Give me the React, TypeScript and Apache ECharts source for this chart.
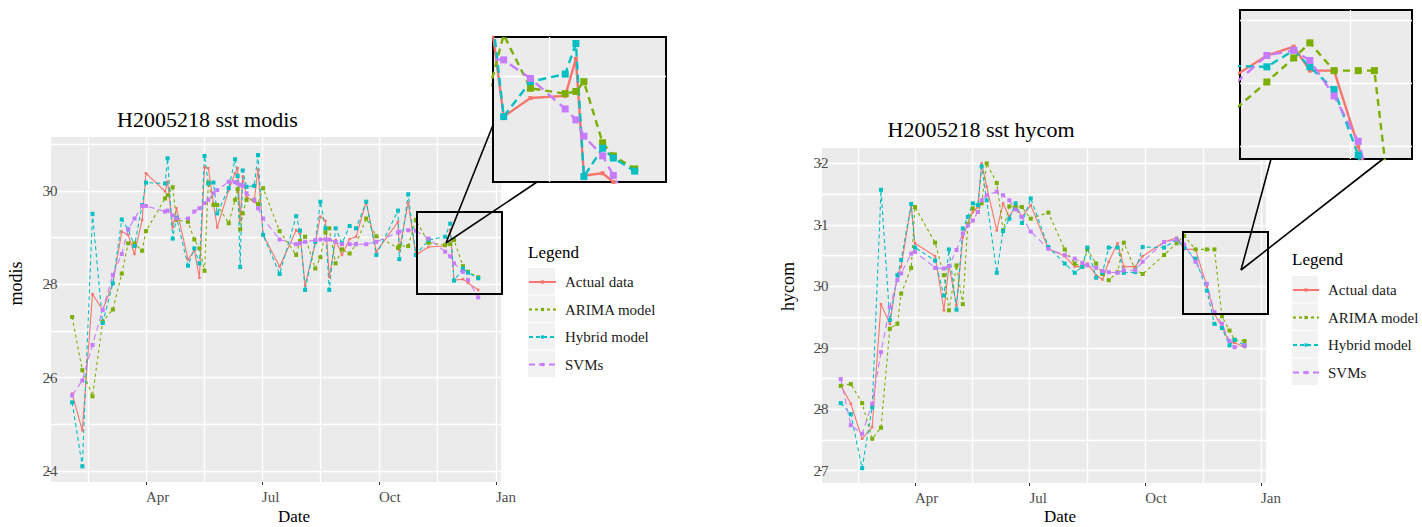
import React, { useEffect, useRef } from "react";
import * as echarts from "echarts";

// ---------- data ----------
const NAMES = ["Actual data", "ARIMA model", "Hybrid model", "SVMs"];

const modisDays = [32, 40, 48, 56, 64, 71, 76, 81, 87, 90, 105, 107, 111, 114, 123, 128, 132, 136, 139, 143, 146, 155, 160, 162, 164, 166, 169, 175, 178, 182, 195, 208, 211, 215, 223, 227, 231, 234, 239, 244, 250, 255, 263, 271, 288, 289, 296, 302, 312, 325, 329, 332, 339, 343, 351];
const modisActual = [25.66, 24.87, 27.79, 27.45, 28.02, 29.13, 29.06, 28.65, 29.38, 30.38, 29.99, 30.2, 29.22, 29.63, 28.53, 28.73, 28.14, 30.51, 30.49, 29.74, 29.22, 30.02, 30.38, 30.49, 29.38, 30.31, 29.88, 29.77, 30.46, 29.06, 28.38, 29.16, 29.09, 27.98, 28.88, 29.45, 29.36, 28.16, 28.95, 28.63, 28.97, 29.02, 29.77, 28.7, 29.34, 28.73, 29.75, 28.63, 28.8, 28.82, 29.16, 28.09, 28.11, 28.03, 27.88];
const modisArima = [27.3, 26.16, 25.6, 27.2, 27.46, 28.23, 28.88, 28.88, 28.72, 29.14, 29.84, 29.91, 30.08, 29.38, 29.34, 28.96, 28.77, 28.29, 30.18, 29.7, 29.7, 29.31, 29.81, 30.04, 29.18, 29.52, 29.81, 29.81, 29.72, 30.06, 29.14, 28.63, 28.93, 29.02, 28.34, 28.58, 29.11, 29.2, 28.45, 28.75, 28.66, 28.86, 29.41, 29.03, 28.78, 28.82, 28.82, 29.38, 28.89, 28.84, 28.86, 28.95, 28.39, 28.27, 28.15];
const modisHybrid = [25.47, 24.1, 29.51, 27.17, 28.02, 29.39, 29.18, 28.82, 29.7, 30.18, 30.16, 30.7, 28.98, 29.43, 28.4, 28.77, 28.45, 30.75, 30.16, 30.18, 29.52, 30.06, 30.68, 30.32, 28.37, 30.44, 30.09, 30.11, 30.77, 29.06, 28.22, 29.46, 29.15, 27.88, 28.91, 29.77, 29.2, 27.88, 29.2, 28.88, 29.25, 29.2, 29.77, 28.63, 29.58, 28.54, 29.93, 28.63, 28.95, 29.02, 29.3, 28.08, 28.34, 28.25, 28.13];
const modisSvm = [25.62, 25.94, 26.7, 27.45, 28.2, 28.65, 29.18, 29.41, 29.68, 29.68, 29.56, 29.58, 29.48, 29.41, 29.41, 29.56, 29.63, 29.74, 29.81, 29.95, 30.02, 30.2, 30.19, 30.16, 30.13, 30.11, 29.95, 29.81, 29.63, 29.41, 28.96, 28.86, 28.88, 28.91, 28.95, 28.96, 28.96, 28.96, 28.91, 28.86, 28.86, 28.86, 28.86, 28.91, 29.11, 29.13, 29.16, 29.15, 28.98, 28.7, 28.6, 28.45, 28.27, 28.09, 27.72];

const hycomDays = [31, 39, 48, 56, 63, 70, 76, 79, 87, 90, 106, 113, 117, 123, 128, 132, 136, 140, 143, 147, 155, 160, 165, 170, 175, 182, 196, 209, 217, 223, 227, 234, 239, 244, 251, 256, 265, 271, 288, 298, 304, 313, 322, 328, 334, 340, 344, 352];
const hycomActual = [28.39, 28.09, 27.52, 27.71, 29.71, 29.39, 30.18, 30.32, 31.32, 30.7, 30.49, 29.61, 30.34, 29.69, 30.8, 31.02, 31.21, 31.29, 32.0, 31.62, 30.91, 31.35, 31.13, 31.32, 31.13, 31.32, 30.61, 30.49, 30.32, 30.32, 30.37, 30.18, 30.11, 30.4, 30.7, 30.32, 30.32, 30.49, 30.72, 30.79, 30.6, 30.6, 30.0, 29.55, 29.34, 29.09, 29.08, 29.01];
const hycomArima = [28.38, 28.41, 28.1, 27.52, 27.7, 29.31, 29.39, 29.88, 30.3, 31.29, 30.71, 30.18, 29.61, 30.34, 29.71, 31.01, 31.27, 31.21, 31.35, 32.0, 31.68, 30.91, 31.3, 31.29, 31.29, 31.1, 31.2, 30.6, 30.37, 30.32, 30.6, 30.37, 30.2, 30.1, 30.23, 30.71, 30.27, 30.2, 30.51, 30.7, 30.82, 30.6, 30.6, 30.6, 29.51, 29.28, 29.13, 29.11];
const hycomHybrid = [28.1, 27.92, 27.04, 28.03, 31.57, 29.45, 30.18, 30.43, 31.34, 30.63, 30.42, 29.85, 30.6, 29.62, 30.94, 31.13, 31.35, 31.32, 31.95, 31.4, 30.22, 30.9, 31.1, 31.35, 31.03, 31.43, 30.64, 30.37, 30.22, 30.32, 30.63, 30.14, 30.22, 30.63, 30.63, 30.22, 30.23, 30.64, 30.63, 30.76, 30.63, 30.45, 29.93, 29.39, 29.32, 29.04, 29.13, 29.04];
const hycomSvm = [28.49, 27.74, 27.6, 28.09, 28.93, 29.66, 30.1, 30.21, 30.53, 30.56, 30.3, 30.29, 30.33, 30.59, 30.86, 30.99, 31.07, 31.21, 31.4, 31.48, 31.54, 31.48, 31.4, 31.25, 31.13, 30.89, 30.61, 30.51, 30.45, 30.38, 30.34, 30.3, 30.25, 30.23, 30.22, 30.26, 30.26, 30.4, 30.72, 30.76, 30.68, 30.4, 30.04, 29.58, 29.39, 29.11, 29.01, 29.04];

// tick labels / grid positions (day of year)
const monthTicks = [90, 181, 273, 365];
const monthLabels = ["Apr", "Jul", "Oct", "Jan"];
const xGridDays = [45, 90, 135.5, 181, 227, 273, 319, 365];
const modisYTicks = [24, 26, 28, 30];
const modisYGrid = [24, 25, 26, 27, 28, 29, 30, 31];
const hycomYTicks = [27, 28, 29, 30, 31, 32];
const hycomYGrid = [27, 27.5, 28, 28.5, 29, 29.5, 30, 30.5, 31, 31.5, 32];

// ---------- styling ----------
const FONT = '"Liberation Serif", "Times New Roman", serif';
const COLORS = ["#F8766D", "#7CAE00", "#00BFC4", "#C77CFF"];
const MAIN_DASH: any[] = ["solid", [3, 3], [4, 3], [6, 4]];
const INSET_DASH: any[] = ["solid", [7, 5], [8, 5], [10, 6]];
const MAIN_SIZE = [2.5, 4, 4, 4];
const INSET_SIZE = [4, 7, 7, 7];

function pairs(days: number[], vals: number[]) {
  return days.map((d, i) => [d, vals[i]]);
}

function buildSeries(days: number[], lists: number[][], axisIdx: number, inset: boolean) {
  return lists.map((vals, k) => ({
    type: "line",
    name: NAMES[k],
    xAxisIndex: axisIdx,
    yAxisIndex: axisIdx,
    data: pairs(days, vals),
    symbol: "rect",
    symbolSize: inset ? INSET_SIZE[k] : MAIN_SIZE[k],
    showSymbol: true,
    clip: true,
    silent: true,
    z: inset ? 8 : 2,
    itemStyle: { color: COLORS[k] },
    lineStyle: { color: COLORS[k], width: inset ? 2.4 : 1.1, type: inset ? INSET_DASH[k] : MAIN_DASH[k] },
    emphasis: { disabled: true },
  }));
}

const tickText = { fontFamily: FONT, fontSize: 15, color: "#4D4D4D" };

function gridXAxis(gridIndex: number, min: number, max: number, z = 0) {
  return {
    type: "value", gridIndex, min, max, position: "top", z,
    axisLine: { show: false },
    axisTick: { show: false, customValues: xGridDays },
    axisLabel: { show: false, customValues: xGridDays },
    splitLine: { show: true, lineStyle: { color: "#FFFFFF", width: 1.3 } },
  };
}
function gridYAxis(gridIndex: number, min: number, max: number, values: number[], z = 0) {
  return {
    type: "value", gridIndex, min, max, position: "right", z,
    axisLine: { show: false },
    axisTick: { show: false, customValues: values },
    axisLabel: { show: false, customValues: values },
    splitLine: { show: true, lineStyle: { color: "#FFFFFF", width: 1.3 } },
  };
}
function labelXAxis(gridIndex: number, min: number, max: number) {
  return {
    type: "value", gridIndex, min, max, position: "bottom",
    axisLine: { show: false },
    axisTick: { show: true, customValues: monthTicks, length: 3, lineStyle: { color: "#333333", width: 1 } },
    axisLabel: {
      show: true, customValues: monthTicks, align: "left", margin: 7, ...tickText,
      formatter: (v: number) => monthLabels[monthTicks.indexOf(Math.round(v))] ?? "",
    },
    splitLine: { show: false },
  };
}
function labelYAxis(gridIndex: number, min: number, max: number, values: number[]) {
  return {
    type: "value", gridIndex, min, max, position: "left",
    axisLine: { show: false },
    axisTick: { show: true, customValues: values, length: 3, lineStyle: { color: "#333333", width: 1 } },
    axisLabel: { show: true, customValues: values, align: "center", margin: 1, ...tickText, formatter: (v: number) => String(Math.round(v)) },
    splitLine: { show: false },
  };
}

function text(t: string, x: number, y: number, size: number, extra: any = {}) {
  return {
    type: "text", x, y, silent: true, z: 20, ...extra,
    style: { text: t, fontSize: size, fontFamily: FONT, fill: "#000000", align: "left", verticalAlign: "middle", ...(extra.style || {}) },
  };
}

export default function App() {
  const ref = useRef<HTMLDivElement>(null);
  useEffect(() => {
    if (!ref.current) return;
    const chart = echarts.init(ref.current, undefined, { renderer: "svg" });

    const mX: [number, number] = [15.4, 368.9];
    const mY: [number, number] = [23.764, 31.157];
    const hX: [number, number] = [16.1, 369.0];
    const hY: [number, number] = [26.8, 32.25];
    const miX: [number, number] = [298, 362.7];
    const miY: [number, number] = [28.03, 29.36];
    const hiX: [number, number] = [278, 342];
    const hiY: [number, number] = [29.9, 31.08];

    const mainGrid = { show: true, backgroundColor: "#EBEBEB", borderWidth: 0, outerBoundsMode: "none", containLabel: false };
    const insetGrid = { show: true, backgroundColor: "#EBEBEB", borderColor: "#000000", borderWidth: 2, z: 5, outerBoundsMode: "none", containLabel: false };

    const keyRects: any[] = [];
    for (let k = 0; k < 4; k++) {
      keyRects.push({ type: "rect", silent: true, z: 1, shape: { x: 528, y: 268 + k * 27.5, width: 27, height: 26.5 }, style: { fill: "#F2F2F2" } });
      keyRects.push({ type: "rect", silent: true, z: 1, shape: { x: 1292, y: 276 + k * 27.5, width: 26, height: 26.5 }, style: { fill: "#F2F2F2" } });
    }

    const legendBase = {
      orient: "vertical", itemWidth: 27, itemHeight: 4, itemGap: 0, padding: 0, selectedMode: false,
      data: NAMES,
      textStyle: { fontFamily: FONT, fontSize: 15, color: "#1A1A1A", lineHeight: 27.5, padding: [0, 0, 0, 4] },
    };

    const option: any = {
      animation: false,
      grid: [
        { ...mainGrid, left: 51, top: 137, width: 450, height: 345 },
        { ...mainGrid, left: 822, top: 148, width: 444, height: 335 },
        { ...insetGrid, left: 493, top: 37, width: 173, height: 145 },
        { ...insetGrid, left: 1240, top: 10, width: 172, height: 149 },
      ],
      xAxis: [
        gridXAxis(0, mX[0], mX[1]),
        gridXAxis(1, hX[0], hX[1]),
        gridXAxis(2, miX[0], miX[1], 6),
        gridXAxis(3, hiX[0], hiX[1], 6),
        labelXAxis(0, mX[0], mX[1]),
        labelXAxis(1, hX[0], hX[1]),
      ],
      yAxis: [
        gridYAxis(0, mY[0], mY[1], modisYGrid),
        gridYAxis(1, hY[0], hY[1], hycomYGrid),
        gridYAxis(2, miY[0], miY[1], modisYGrid, 6),
        gridYAxis(3, hiY[0], hiY[1], hycomYGrid, 6),
        labelYAxis(0, mY[0], mY[1], modisYTicks),
        labelYAxis(1, hY[0], hY[1], hycomYTicks),
      ],
      legend: [
        { ...legendBase, left: 528, top: 268.25 },
        { ...legendBase, left: 1292, top: 276.25, itemWidth: 26 },
      ],
      series: [
        ...buildSeries(modisDays, [modisActual, modisArima, modisHybrid, modisSvm], 0, false),
        ...buildSeries(hycomDays, [hycomActual, hycomArima, hycomHybrid, hycomSvm], 1, false),
        ...buildSeries(modisDays, [modisActual, modisArima, modisHybrid, modisSvm], 2, true),
        ...buildSeries(hycomDays, [hycomActual, hycomArima, hycomHybrid, hycomSvm], 3, true),
      ],
      graphic: [
        ...keyRects,
        text("H2005218 sst modis", 117, 119, 22),
        text("H2005218 sst hycom", 887.5, 129.5, 22),
        text("Legend", 528, 252, 17),
        text("Legend", 1292, 259.5, 17),
        text("Date", 294, 516.5, 17, { style: { align: "center" } }),
        text("Date", 1060, 516.5, 17, { style: { align: "center" } }),
        text("modis", 16, 283.5, 18, { rotation: Math.PI / 2, style: { align: "center" } }),
        text("hycom", 788, 286.5, 18, { rotation: Math.PI / 2, style: { align: "center" } }),
        { type: "rect", silent: true, z: 20, shape: { x: 417, y: 212, width: 85, height: 82 }, style: { fill: "none", stroke: "#000000", lineWidth: 2 } },
        { type: "rect", silent: true, z: 20, shape: { x: 1183, y: 232, width: 85, height: 82 }, style: { fill: "none", stroke: "#000000", lineWidth: 2 } },
        { type: "line", silent: true, z: 20, shape: { x1: 446, y1: 243, x2: 493, y2: 125 }, style: { stroke: "#000000", lineWidth: 1.6 } },
        { type: "line", silent: true, z: 20, shape: { x1: 446, y1: 243, x2: 537, y2: 182 }, style: { stroke: "#000000", lineWidth: 1.6 } },
        { type: "line", silent: true, z: 20, shape: { x1: 1241, y1: 270, x2: 1271, y2: 159 }, style: { stroke: "#000000", lineWidth: 1.6 } },
        { type: "line", silent: true, z: 20, shape: { x1: 1241, y1: 270, x2: 1383, y2: 159 }, style: { stroke: "#000000", lineWidth: 1.6 } },
      ],
    };

    chart.setOption(option);
    return () => chart.dispose();
  }, []);

  return (
    <div
      ref={ref}
      style={{ position: "fixed", left: 0, top: 0, width: 1422, height: 527, background: "#FFFFFF" }}
    />
  );
}
